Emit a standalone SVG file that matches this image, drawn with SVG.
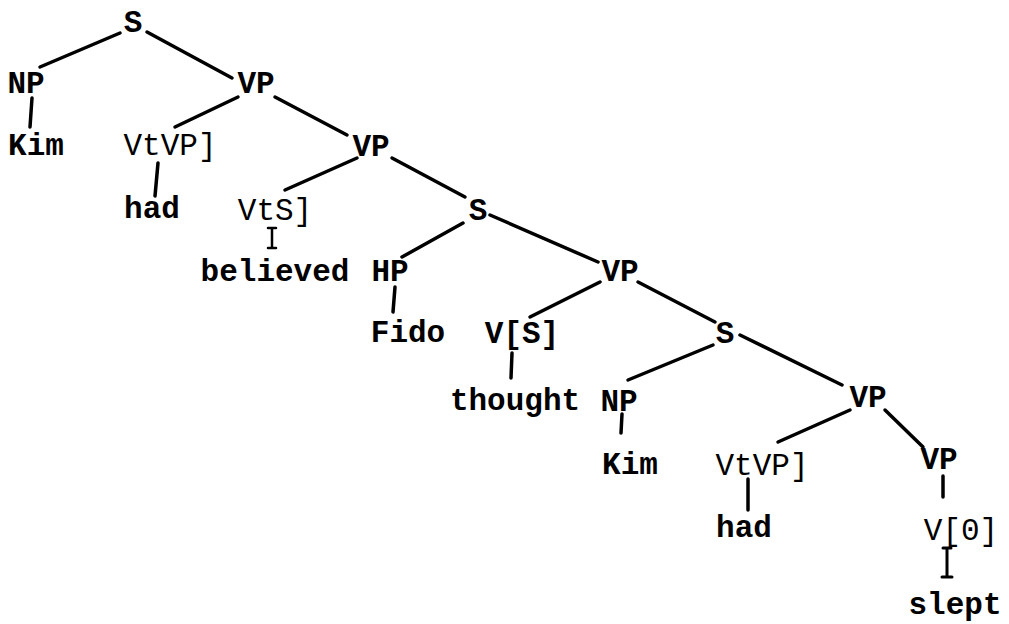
<svg xmlns="http://www.w3.org/2000/svg" width="1009" height="624" viewBox="0 0 1009 624">
  <style>
    text { font-family: "Liberation Mono", "Courier New", monospace; font-size: 31px; fill: #000; text-anchor: middle; }
    .b { font-weight: bold; }
    .n { font-weight: normal; }
    #edges line, #edges path { stroke: #000; stroke-width: 3.5; stroke-linecap: round; fill: none; }
  </style>
  <rect width="1009" height="624" fill="#fff"/>

  <g id="edges">
    <line x1="120" y1="33" x2="40" y2="67"/>
    <line x1="147" y1="32" x2="232" y2="78"/>
    <line x1="32" y1="98" x2="30" y2="127"/>
    <line x1="238" y1="97" x2="175" y2="127"/>
    <line x1="275" y1="97" x2="347" y2="135"/>
    <line x1="158" y1="163" x2="155" y2="196"/>
    <line x1="357" y1="158" x2="285" y2="190"/>
    <line x1="392" y1="158" x2="465" y2="197"/>
    <path d="M272 228 V248 M268 228 H276 M268 248 H276" style="stroke-width:2.5"/>
    <line x1="463" y1="223" x2="402" y2="257"/>
    <line x1="490" y1="215" x2="598" y2="262"/>
    <line x1="395" y1="287" x2="393" y2="312"/>
    <line x1="600" y1="282" x2="530" y2="317"/>
    <line x1="638" y1="282" x2="715" y2="322"/>
    <line x1="512" y1="353" x2="511" y2="378"/>
    <line x1="713" y1="345" x2="628" y2="380"/>
    <line x1="740" y1="335" x2="842" y2="385"/>
    <line x1="622" y1="414" x2="621" y2="433"/>
    <line x1="850" y1="410" x2="778" y2="442"/>
    <line x1="885" y1="410" x2="923" y2="447"/>
    <line x1="748" y1="479" x2="748" y2="510"/>
    <line x1="943" y1="476" x2="943" y2="497"/>
    <path d="M947 548 V577 M943 548 H951 M942 577 H952" style="stroke-width:3"/>
  </g>

  <g id="n-s0"><text class="b" x="133" y="32">S</text></g>
  <g id="n-np1"><text class="b" x="26" y="93">NP</text></g>
  <g id="n-kim1"><text class="b" x="36" y="155">Kim</text></g>
  <g id="n-vp1"><text class="b" x="256" y="93">VP</text></g>
  <g id="n-vtvp1"><text class="n" x="170" y="155">VtVP]</text></g>
  <g id="n-had1"><text class="b" x="152" y="218">had</text></g>
  <g id="n-vp2"><text class="b" x="371" y="156">VP</text></g>
  <g id="n-vts"><text class="n" x="275" y="220">VtS]</text></g>
  <g id="n-believed"><text class="b" x="275" y="281">believed</text></g>
  <g id="n-s3"><text class="b" x="478" y="220">S</text></g>
  <g id="n-hp"><text class="b" x="390" y="281">HP</text></g>
  <g id="n-fido"><text class="b" x="408" y="342">Fido</text></g>
  <g id="n-vp4"><text class="b" x="620" y="281">VP</text></g>
  <g id="n-vs"><text class="b" x="522" y="343">V[S]</text></g>
  <g id="n-thought"><text class="b" x="515" y="410">thought</text></g>
  <g id="n-s5"><text class="b" x="725" y="343">S</text></g>
  <g id="n-np5"><text class="b" x="619" y="411">NP</text></g>
  <g id="n-kim5"><text class="b" x="630" y="474">Kim</text></g>
  <g id="n-vp6"><text class="b" x="868" y="407">VP</text></g>
  <g id="n-vtvp6"><text class="n" x="762" y="475">VtVP]</text></g>
  <g id="n-had6"><text class="b" x="744" y="537">had</text></g>
  <g id="n-vp7"><text class="b" x="939" y="469">VP</text></g>
  <g id="n-v0"><text class="n" x="961" y="540">V[0]</text></g>
  <g id="n-slept"><text class="b" x="955" y="614">slept</text></g>
</svg>
